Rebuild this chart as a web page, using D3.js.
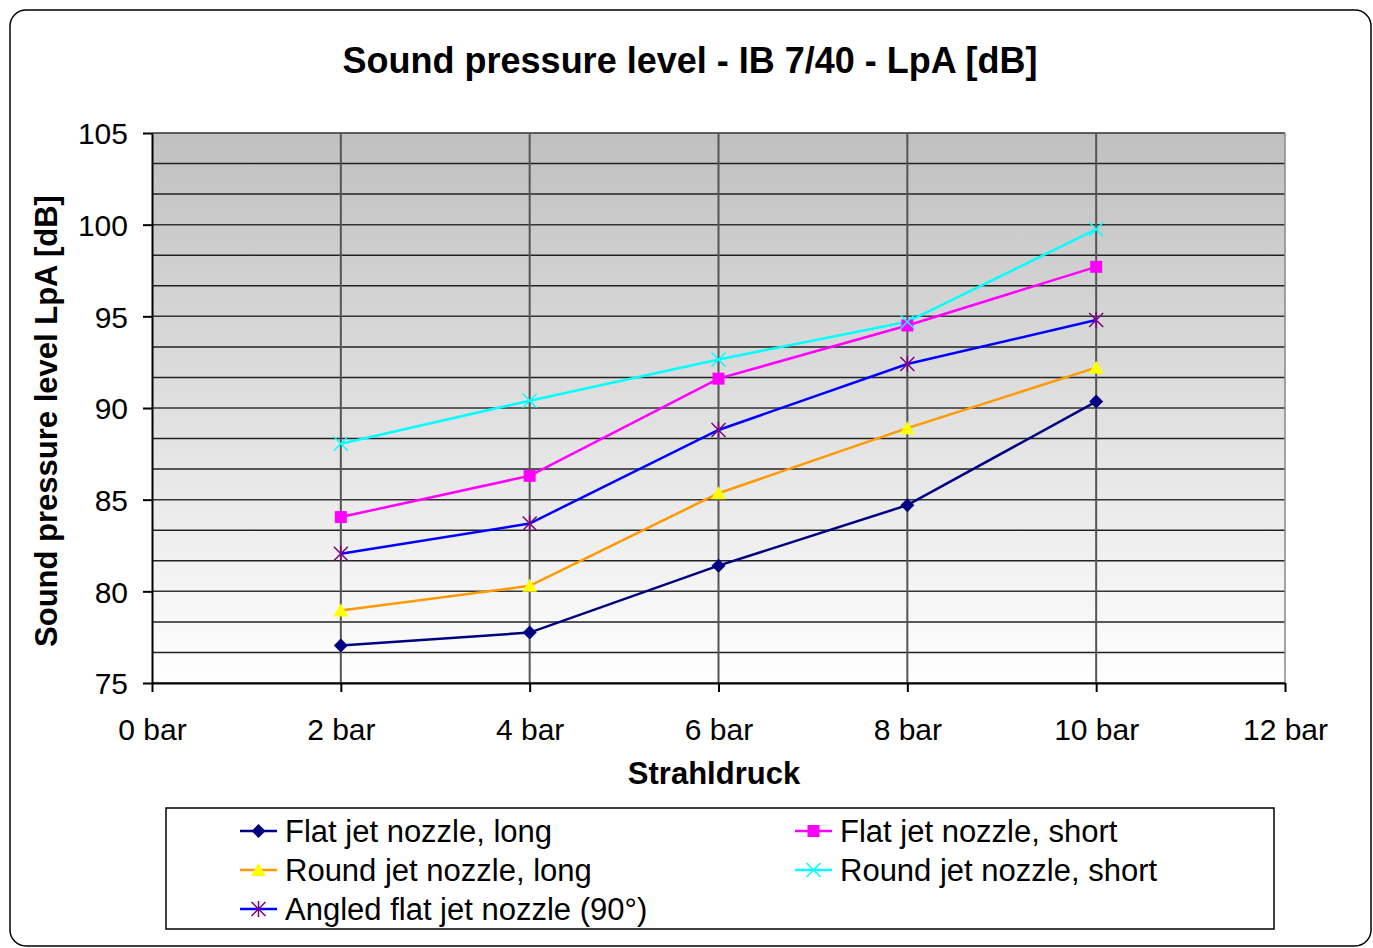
<!DOCTYPE html>
<html>
<head>
<meta charset="utf-8">
<script src="https://cdn.jsdelivr.net/npm/d3@7"></script>
<style>
  body { margin: 0; background: #fff; }
  text { font-family: "Liberation Sans", Arial, sans-serif; }
</style>
</head>
<body>
<div id="chart"></div>
<script>
// data
var pressures = [2, 4, 6, 8, 10];
var flatLong = [77.05, 77.75, 81.4, 84.7, 90.35];
var flatShort = [84.05, 86.3, 91.6, 94.5, 97.7];
var roundLong = [78.95, 80.3, 85.35, 88.9, 92.2];
var roundShort = [88.05, 90.4, 92.65, 94.7, 99.75];
var angledFlat = [82.05, 83.7, 88.8, 92.4, 94.8];
var xTicks = [0, 2, 4, 6, 8, 10, 12];
var yTicks = [75, 80, 85, 90, 95, 100, 105];

var series = [
  {name: "Flat jet nozzle, long", values: flatLong, line: "#000080", fill: "#000080", marker: "diamond"},
  {name: "Round jet nozzle, long", values: roundLong, line: "#ff9900", fill: "#ffff00", marker: "triangle"},
  {name: "Angled flat jet nozzle (90°)", values: angledFlat, line: "#0000ff", fill: "#800080", marker: "star"},
  {name: "Flat jet nozzle, short", values: flatShort, line: "#ff00ff", fill: "#ff00ff", marker: "square"},
  {name: "Round jet nozzle, short", values: roundShort, line: "#00ffff", fill: "#00ffff", marker: "cross"}
];

var svgWidth = 1373, svgHeight = 948;
var margin = {top: 133, left: 152};
var width = 1285 - 152, height = 683 - 133;

var svg = d3.select("#chart").append("svg")
  .attr("width", svgWidth)
  .attr("height", svgHeight);

// outer frame
svg.append("rect")
  .attr("x", 10).attr("y", 10)
  .attr("width", 1361).attr("height", 936)
  .attr("rx", 16)
  .attr("fill", "#fff").attr("stroke", "#000").attr("stroke-width", 1.5);

// gradient for plot area
var defs = svg.append("defs");
var grad = defs.append("linearGradient").attr("id", "bg")
  .attr("x1", 0).attr("y1", 0).attr("x2", 0).attr("y2", 1);
grad.append("stop").attr("offset", "0%").attr("stop-color", "#c0c0c0");
grad.append("stop").attr("offset", "100%").attr("stop-color", "#ffffff");

var chartGroup = svg.append("g")
  .attr("transform", `translate(${margin.left}, ${margin.top})`);

var x = d3.scaleLinear().domain([0, 12]).range([0, width]);
var y = d3.scaleLinear().domain([75, 105]).range([height, 0]);

chartGroup.append("rect")
  .attr("width", width).attr("height", height)
  .attr("fill", "url(#bg)");

// horizontal gridlines (every 5/3 dB)
var hLines = d3.range(0, 19).map(i => 75 + i * 5 / 3);
chartGroup.selectAll(".hgrid")
  .data(hLines)
  .enter().append("line")
  .attr("x1", 0).attr("x2", width)
  .attr("y1", d => y(d)).attr("y2", d => y(d))
  .attr("stroke", (d, i) => i % 3 == 0 ? "#333" : "#222")
  .attr("stroke-width", 1.5);

// vertical gridlines
chartGroup.selectAll(".vgrid")
  .data(pressures)
  .enter().append("line")
  .attr("x1", d => x(d)).attr("x2", d => x(d))
  .attr("y1", 0).attr("y2", height)
  .attr("stroke", "#555").attr("stroke-width", 2);

// right border of plot
chartGroup.append("line")
  .attr("x1", width).attr("x2", width).attr("y1", 0).attr("y2", height)
  .attr("stroke", "#888").attr("stroke-width", 1.5);

// axes
var bottomAxis = d3.axisBottom(x).tickValues(xTicks).tickSize(9).tickSizeOuter(0)
  .tickFormat(d => d + " bar");
var leftAxis = d3.axisLeft(y).tickValues(yTicks).tickSize(9).tickSizeOuter(0);

var gx = chartGroup.append("g")
  .attr("transform", `translate(0, ${height})`)
  .call(bottomAxis);
gx.selectAll("text").attr("font-size", 30).attr("fill", "#000").attr("dy", 0).attr("y", 57)
  .attr("font-family", "Liberation Sans, Arial, sans-serif");
gx.selectAll("line,path").attr("stroke", "#000").attr("stroke-width", 2);

var gy = chartGroup.append("g").call(leftAxis);
gy.selectAll("text").attr("font-size", 30).attr("fill", "#000").attr("x", -24).attr("dy", "0.36em")
  .attr("font-family", "Liberation Sans, Arial, sans-serif");
gy.selectAll("line,path").attr("stroke", "#000").attr("stroke-width", 2);

// series lines
var line = d3.line()
  .x((d, i) => x(pressures[i]))
  .y(d => y(d));

series.forEach(function(s) {
  chartGroup.append("path")
    .datum(s.values)
    .attr("d", line)
    .attr("fill", "none")
    .attr("stroke", s.line)
    .attr("stroke-width", 2.5);
});

function drawMarker(g, type, color) {
  if (type == "diamond") {
    g.append("path").attr("d", "M0,-7L7,0L0,7L-7,0Z").attr("fill", color);
  } else if (type == "square") {
    g.append("rect").attr("x", -6).attr("y", -6).attr("width", 12).attr("height", 12).attr("fill", color);
  } else if (type == "triangle") {
    g.append("path").attr("d", "M0,-7L7.5,6L-7.5,6Z").attr("fill", color);
  } else if (type == "cross") {
    g.append("path").attr("d", "M-7,-7L7,7M-7,7L7,-7").attr("stroke", color).attr("stroke-width", 1.5);
  } else if (type == "star") {
    g.append("path").attr("d", "M-7,-7L7,7M-7,7L7,-7M0,-8L0,8").attr("stroke", color).attr("stroke-width", 1.5);
  }
}

series.forEach(function(s) {
  s.values.forEach(function(v, i) {
    var g = chartGroup.append("g")
      .attr("transform", `translate(${x(pressures[i])}, ${y(v)})`);
    drawMarker(g, s.marker, s.fill);
  });
});

// titles
svg.append("text")
  .attr("x", 690).attr("y", 73)
  .attr("text-anchor", "middle")
  .attr("font-size", 36).attr("font-weight", "bold")
  .text("Sound pressure level - IB 7/40 - LpA [dB]");

svg.append("text")
  .attr("x", 714).attr("y", 784)
  .attr("text-anchor", "middle")
  .attr("font-size", 31).attr("font-weight", "bold")
  .text("Strahldruck");

svg.append("text")
  .attr("transform", "translate(57, 421) rotate(-90)")
  .attr("text-anchor", "middle")
  .attr("font-size", 31).attr("font-weight", "bold")
  .text("Sound pressure level LpA [dB]");

// legend
var legend = svg.append("g");
legend.append("rect")
  .attr("x", 166).attr("y", 808)
  .attr("width", 1108).attr("height", 121)
  .attr("fill", "#fff").attr("stroke", "#000").attr("stroke-width", 1.5);

var legendPos = [
  {x: 240, y: 831}, {x: 240, y: 870}, {x: 240, y: 909},
  {x: 795, y: 831}, {x: 795, y: 870}
];

series.forEach(function(s, i) {
  var p = legendPos[i];
  var g = legend.append("g").attr("transform", `translate(${p.x}, ${p.y})`);
  g.append("line").attr("x1", 0).attr("x2", 37).attr("y1", 0).attr("y2", 0)
    .attr("stroke", s.line).attr("stroke-width", 2.5);
  drawMarker(g.append("g").attr("transform", "translate(18.5, 0)"), s.marker, s.fill);
  g.append("text")
    .attr("x", 45).attr("y", 0).attr("dy", "0.36em")
    .attr("font-size", 31)
    .text(s.name);
});
</script>
</body>
</html>
